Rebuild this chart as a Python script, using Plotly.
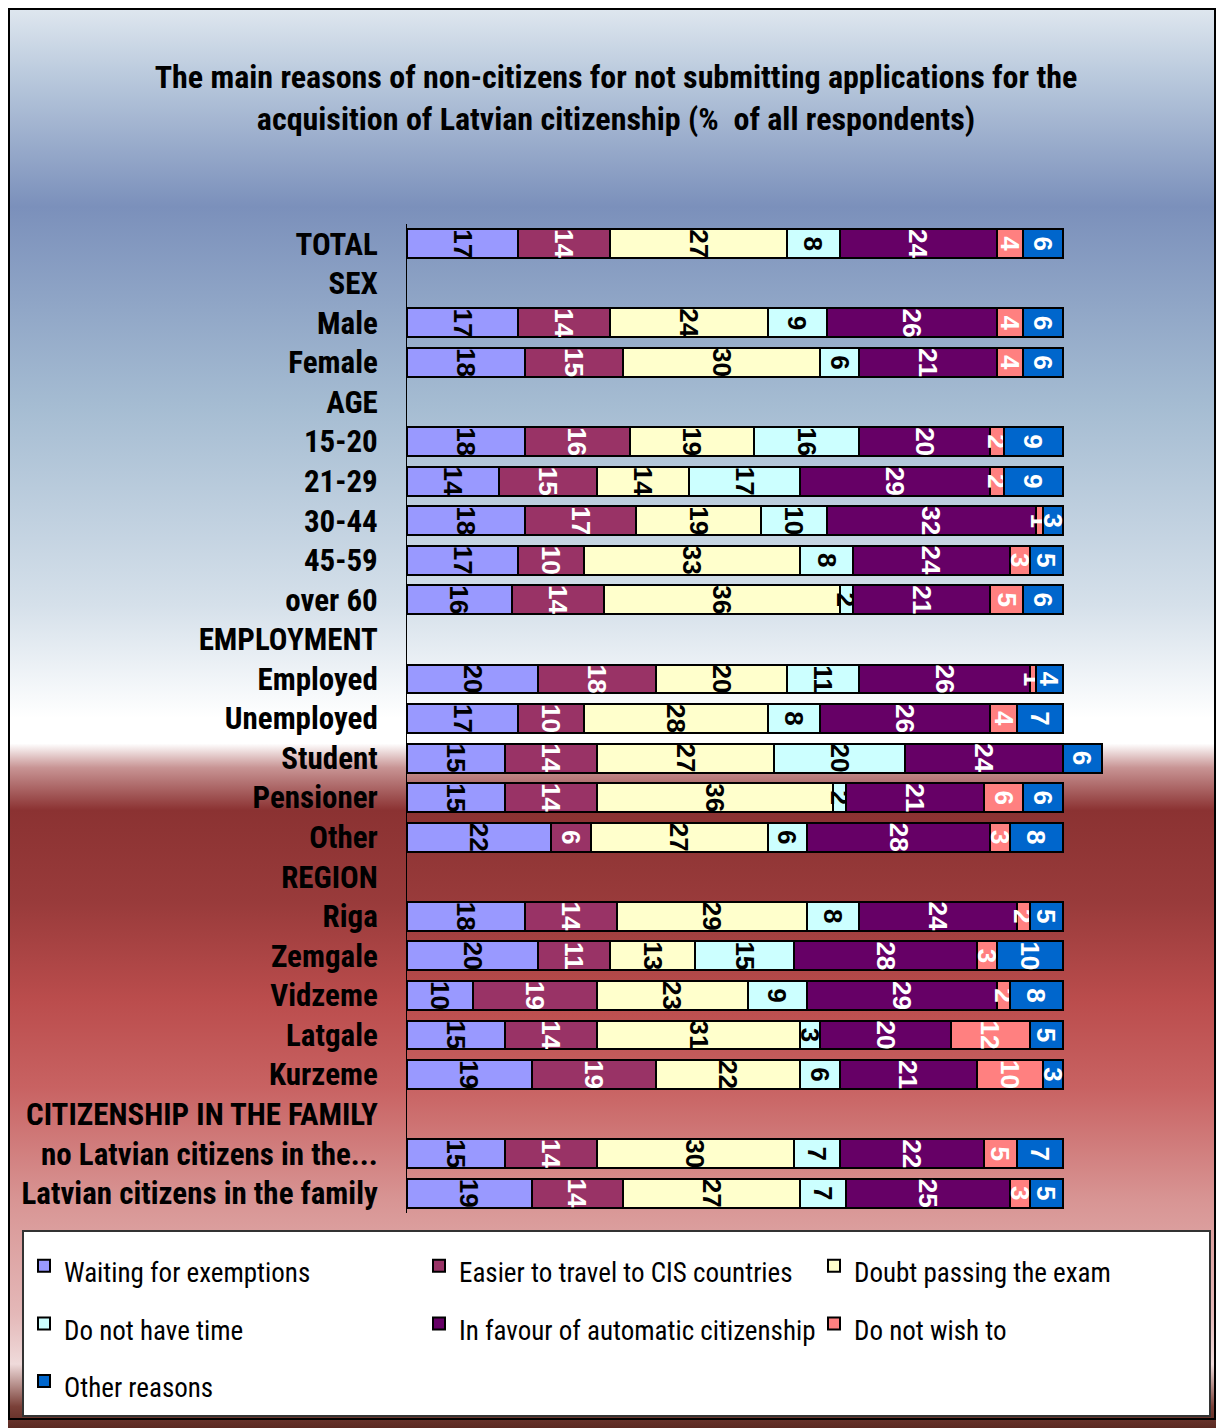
import base64
import plotly.graph_objects as go

categories = [
    "TOTAL", "SEX", "Male", "Female", "AGE", "15-20", "21-29", "30-44", "45-59", "over 60",
    "EMPLOYMENT", "Employed", "Unemployed", "Student", "Pensioner", "Other",
    "REGION", "Riga", "Zemgale", "Vidzeme", "Latgale", "Kurzeme",
    "CITIZENSHIP IN THE FAMILY", "no Latvian citizens in the...", "Latvian citizens in the family",
]

waiting_for_exemptions = [17, None, 17, 18, None, 18, 14, 18, 17, 16, None, 20, 17, 15, 15, 22, None, 18, 20, 10, 15, 19, None, 15, 19]
easier_to_travel_cis = [14, None, 14, 15, None, 16, 15, 17, 10, 14, None, 18, 10, 14, 14, 6, None, 14, 11, 19, 14, 19, None, 14, 14]
doubt_passing_exam = [27, None, 24, 30, None, 19, 14, 19, 33, 36, None, 20, 28, 27, 36, 27, None, 29, 13, 23, 31, 22, None, 30, 27]
do_not_have_time = [8, None, 9, 6, None, 16, 17, 10, 8, 2, None, 11, 8, 20, 2, 6, None, 8, 15, 9, 3, 6, None, 7, 7]
automatic_citizenship = [24, None, 26, 21, None, 20, 29, 32, 24, 21, None, 26, 26, 24, 21, 28, None, 24, 28, 29, 20, 21, None, 22, 25]
do_not_wish_to = [4, None, 4, 4, None, 2, 2, 1, 3, 5, None, 1, 4, None, 6, 3, None, 2, 3, 2, 12, 10, None, 5, 3]
other_reasons = [6, None, 6, 6, None, 9, 9, 3, 5, 6, None, 4, 7, 6, 6, 8, None, 5, 10, 8, 5, 3, None, 7, 5]

series_names = [
    "Waiting for exemptions", "Easier to travel to CIS countries", "Doubt passing the exam",
    "Do not have time", "In favour of automatic citizenship", "Do not wish to", "Other reasons",
]
series_values = [waiting_for_exemptions, easier_to_travel_cis, doubt_passing_exam, do_not_have_time,
                 automatic_citizenship, do_not_wish_to, other_reasons]
series_colors = ["#9999ff", "#993366", "#ffffcc", "#ccffff", "#660066", "#ff8080", "#0066cc"]
text_colors = ["black", "white", "black", "black", "white", "white", "white"]

title_text = ("The main reasons of non-citizens for not submitting applications for the<br>"
              "acquisition of Latvian citizenship (%  of all respondents)")

NARROW = "Roboto Condensed, Liberation Sans Narrow, Arial Narrow, DejaVu Sans Condensed, sans-serif"
OFF = 8  # the page body adds an 8px margin; positions below are page pixels
W, H = 1224 - OFF, 1428 - OFF
ML, MT = 407 - OFF, 224 - OFF
PLOT_RIGHT, PLOT_BOTTOM = 1212 - OFF, 1213 - OFF
MR, MB = W - PLOT_RIGHT, H - PLOT_BOTTOM
PW, PH = W - ML - MR, H - MT - MB
PX_PER_UNIT = 6.555
X_MAX = PW / PX_PER_UNIT


def px_x(p):
    return (p - OFF - ML) / PW


def px_y(p):
    return (H - MB - (p - OFF)) / PH


fig = go.Figure()
for name, vals, col, tcol in zip(series_names, series_values, series_colors, text_colors):
    fig.add_trace(go.Bar(
        y=categories, x=vals, orientation="h", name=f"<span style='font-size:27px'>{name}</span>",
        marker=dict(color=col, line=dict(color="black", width=2)),
        text=[("" if v is None else str(v)) for v in vals],
        textposition="inside", textangle=90, constraintext="none",
        insidetextanchor="middle",
        textfont=dict(family="Liberation Sans, Arial, sans-serif", size=26, color=tcol, weight="bold"),
        hoverinfo="skip",
    ))

stops = [(0, "#dfe7ef"), (0.05, "#b8c8dc"), (0.14, "#7b90bb"), (0.28, "#a5bcd2"), (0.42, "#d5e0ea"),
         (0.50, "#ffffff"), (0.518, "#ffffff"), (0.535, "#c89494"), (0.565, "#8b3232"), (0.63, "#993b3b"),
         (0.70, "#bb4d4d"), (0.76, "#c86262"), (0.84, "#d89594"), (0.92, "#e4b8b8"), (0.955, "#efdada"),
         (0.985, "#7a4038"), (1, "#5a2a22")]
svg = ('<svg xmlns="http://www.w3.org/2000/svg" width="%d" height="%d"><defs>'
       '<linearGradient id="g" x1="0" y1="0" x2="0" y2="1">' % (W, H)
       + "".join('<stop offset="%s" stop-color="%s"/>' % (o, c) for o, c in stops)
       + '</linearGradient></defs><rect width="%d" height="%d" fill="url(#g)"/></svg>' % (W, H))
src = "data:image/svg+xml;base64," + base64.b64encode(svg.encode()).decode()

fig.update_layout(
    width=W, height=H,
    margin=dict(l=ML, r=MR, t=MT, b=MB, autoexpand=False),
    barmode="stack", bargap=0.27,
    paper_bgcolor="white", plot_bgcolor="rgba(0,0,0,0)",
    images=[dict(source=src, xref="paper", yref="paper", x=px_x(OFF), y=px_y(OFF),
                 sizex=W / PW, sizey=H / PH, sizing="stretch", layer="below", xanchor="left", yanchor="top")],
    title=dict(text=title_text, x=0.5, xref="container", xanchor="center",
               y=1 - 80 / H, yref="container", yanchor="middle",
               font=dict(family=NARROW, size=32, color="black", weight="bold")),
    xaxis=dict(range=[0, X_MAX], visible=False, fixedrange=True),
    yaxis=dict(autorange="reversed", showline=True, linecolor="black", linewidth=1, automargin=False,
               showgrid=False, ticks="", ticklabelstandoff=22,
               tickfont=dict(family=NARROW, size=31, color="black", weight="bold")),
    legend=dict(orientation="h", xref="paper", yref="paper",
                x=px_x(22), y=px_y(1230), xanchor="left", yanchor="top",
                bgcolor="white", bordercolor="#333333", borderwidth=2,
                entrywidth=350, font=dict(family=NARROW, size=42, color="black"),
                traceorder="normal"),
    shapes=[dict(type="rect", xref="paper", yref="paper", x0=px_x(9), x1=px_x(1215),
                 y0=px_y(9), y1=px_y(1419), line=dict(color="black", width=2), layer="above")],
    showlegend=True,
)

fig.write_html("out.html")
